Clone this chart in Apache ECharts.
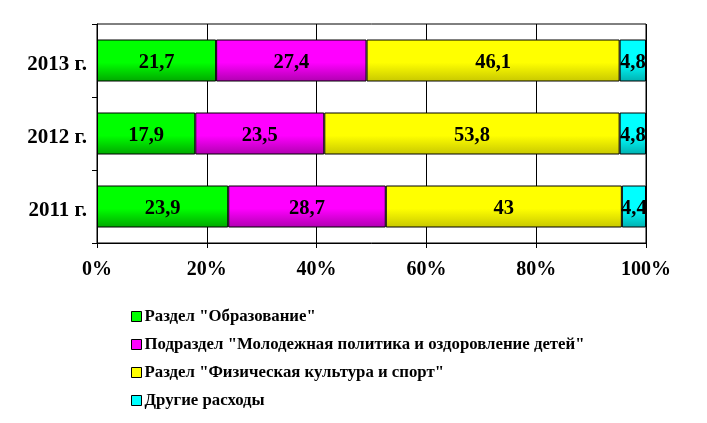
<!DOCTYPE html>
<html><head><meta charset="utf-8">
<script src="https://cdn.jsdelivr.net/npm/echarts@6/dist/echarts.min.js"></script>
<style>html,body{margin:0;padding:0;background:#fff}#c{width:707px;height:423px}</style>
</head><body><div id="c"></div>
<script>
var categories = ['2011 г.', '2012 г.', '2013 г.'];
var seriesNames = ['Раздел "Образование"', 'Подраздел "Молодежная политика и оздоровление детей"', 'Раздел "Физическая культура и спорт"', 'Другие расходы'];
var education = [23.9, 17.9, 21.7];
var youth = [28.7, 23.5, 27.4];
var sport = [43, 53.8, 46.1];
var other = [4.4, 4.8, 4.8];
var xTicks = [0, 20, 40, 60, 80, 100];

var colors = ['#00ff00', '#ff00ff', '#ffff00', '#00ffff'];
var darks = ['#00a800', '#b000b0', '#c8c800', '#00b0b0'];
var values = [education, youth, sport, other];
var font = '"Liberation Serif", "Times New Roman", serif';

function grad(i) {
  return new echarts.graphic.LinearGradient(0, 0, 0, 1, [
    {offset: 0, color: colors[i]},
    {offset: 0.55, color: colors[i]},
    {offset: 1, color: darks[i]}
  ]);
}

var series = values.map(function (v, i) {
  return {
    name: seriesNames[i],
    type: 'bar',
    stack: 'total',
    barWidth: 42,
    data: v,
    itemStyle: {color: grad(i), borderColor: '#000', borderWidth: 1},
    label: {
      show: true, position: 'inside', color: '#000', offset: [0, 2],
      fontFamily: font, fontWeight: 'bold', fontSize: 20.5,
      formatter: function (p) { return String(p.value).replace('.', ','); }
    }
  };
});

var chart = echarts.init(document.getElementById('c'));
chart.setOption({
  animation: false,
  color: colors,
  grid: {left: 97, right: 61, top: 24, bottom: 180, show: true, borderColor: '#000', borderWidth: 1},
  xAxis: {
    type: 'value', min: xTicks[0], max: xTicks[xTicks.length - 1], interval: 20,
    axisLine: {show: true, lineStyle: {color: '#000'}},
    axisTick: {show: true, length: 5, lineStyle: {color: '#000'}},
    splitLine: {show: true, lineStyle: {color: '#000', width: 1}},
    axisLabel: {formatter: '{value}%', color: '#000', fontFamily: font, fontWeight: 'bold', fontSize: 20, margin: 17}
  },
  yAxis: {
    type: 'category', data: categories,
    axisLine: {show: true, lineStyle: {color: '#000'}},
    axisTick: {show: true, length: 5, lineStyle: {color: '#000'}},
    axisLabel: {
      margin: 10,
      formatter: function (v) { return '{a|' + v + '}'; },
      rich: {a: {color: '#000', fontFamily: font, fontWeight: 'bold', fontSize: 21, padding: [8, 0, 0, 0]}}
    }
  },
  legend: {
    orient: 'vertical', left: 126, top: 303, itemGap: 11,
    icon: 'rect', itemWidth: 10, itemHeight: 10,
    itemStyle: {borderColor: '#000', borderWidth: 1},
    textStyle: {color: '#000', fontFamily: font, fontWeight: 'bold', fontSize: 16.8, padding: [0, 0, 0, -2]},
    data: seriesNames.map(function (n, i) { return {name: n, itemStyle: {color: colors[i]}}; })
  },
  series: series
});
</script>
</body></html>
